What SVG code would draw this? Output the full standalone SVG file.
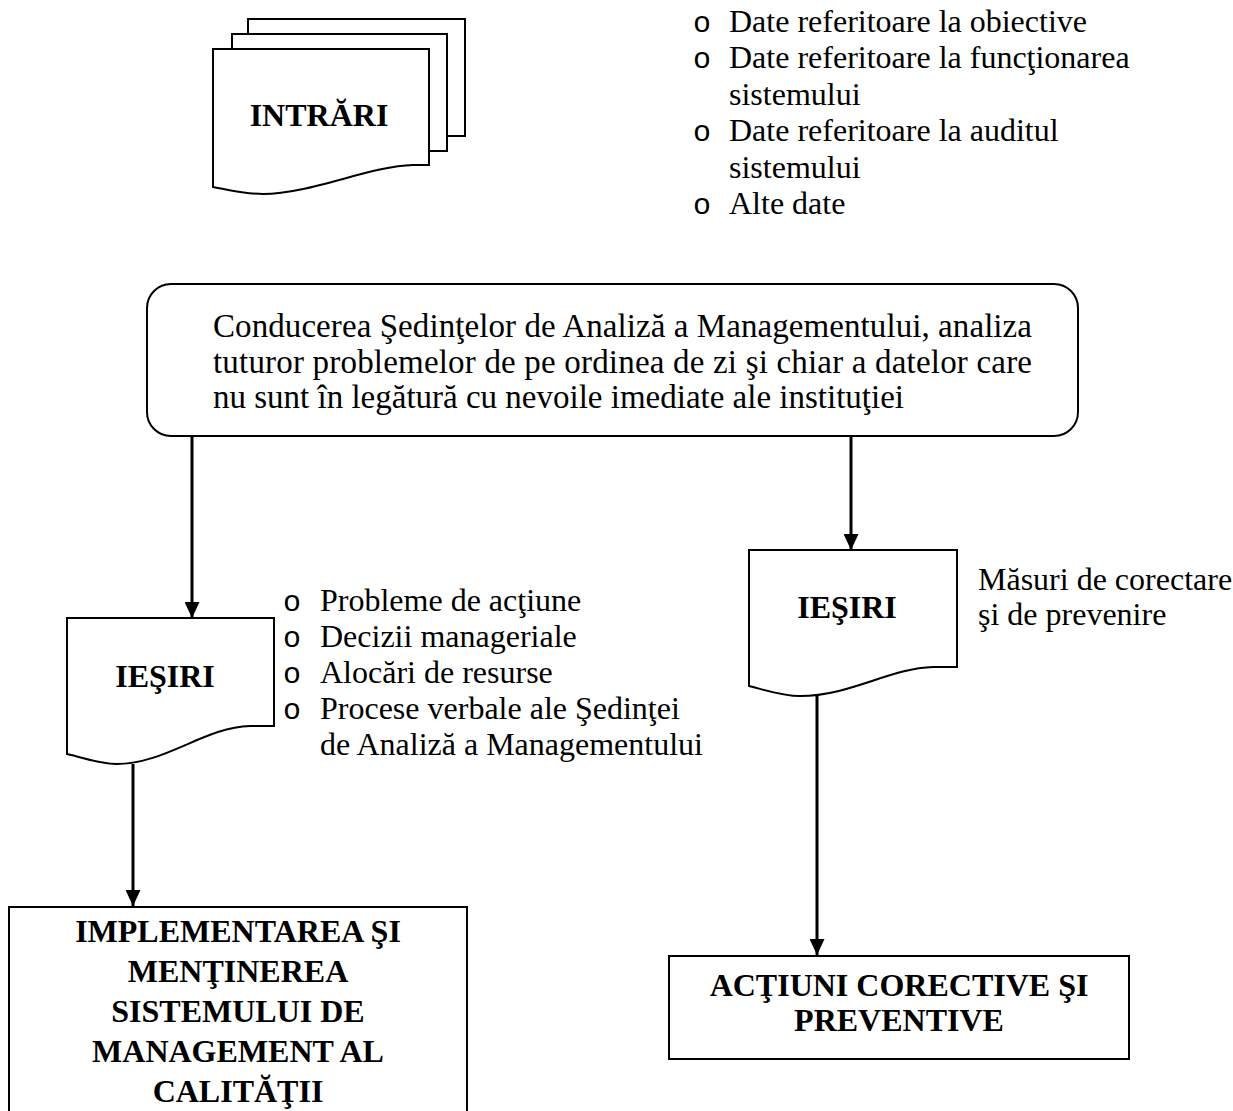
<svg xmlns="http://www.w3.org/2000/svg" width="1233" height="1111" viewBox="0 0 1233 1111">
<style>
  .shape { fill: #fff; stroke: #000; stroke-width: 2; }
  .txt { font-family: "Liberation Serif", "Times New Roman", serif; font-size: 32px; fill: #000; }
  .big { font-size: 33px; }
  .bold { font-weight: bold; }
  .mid { text-anchor: middle; }
  .bul { font-family: "Liberation Mono", "Courier New", monospace; font-size: 30px; fill: #000; }
  .conn { stroke: #000; stroke-width: 3; fill: none; }
</style>
<defs>
  <marker id="arrow" viewBox="0 0 16 15" refX="16" refY="7.5" markerWidth="16" markerHeight="15" markerUnits="userSpaceOnUse" orient="auto">
    <path d="M0,0 L16,7.5 L0,15 z" fill="#000"/>
  </marker>
</defs>
<rect width="1233" height="1111" fill="#fff"/>

<g id="intrari">
  <path class="shape" d="M248,34 V19 H465 V136 H447"/>
  <path class="shape" d="M232,49 V34 H447 V151 H429"/>
  <path class="shape" d="M213,49 H429 V165 H413 C370,166 310,194 263,194 C245,194 230,190 213,187 Z"/>
  <text class="txt bold mid" x="319" y="126">INTRĂRI</text>
</g>

<g id="intrari-list">
  <text class="bul" x="693" y="32">o</text>
  <text class="txt" x="729" y="32">Date referitoare la obiective</text>
  <text class="bul" x="693" y="68">o</text>
  <text class="txt" x="729" y="68">Date referitoare la funcţionarea</text>
  <text class="txt" x="729" y="105">sistemului</text>
  <text class="bul" x="693" y="141">o</text>
  <text class="txt" x="729" y="141">Date referitoare la auditul</text>
  <text class="txt" x="729" y="178">sistemului</text>
  <text class="bul" x="693" y="214">o</text>
  <text class="txt" x="729" y="214">Alte date</text>
</g>

<g id="conducere">
  <rect class="shape" x="147" y="284" width="931" height="152" rx="24" ry="24"/>
  <text class="txt big" x="213" y="337" textLength="819" lengthAdjust="spacing">Conducerea Şedinţelor de Analiză a Managementului, analiza</text>
  <text class="txt big" x="213" y="373" textLength="819" lengthAdjust="spacing">tuturor problemelor de pe ordinea de zi şi chiar a datelor care</text>
  <text class="txt big" x="213" y="408">nu sunt în legătură cu nevoile imediate ale instituţiei</text>
</g>

<g id="iesiri-left">
  <path class="shape" d="M67,618 H274 V726 H250 C205,727 165,764 117,764 C100,764 85,758 67,754 Z"/>
  <text class="txt bold mid" x="165" y="687">IEŞIRI</text>
</g>

<g id="iesiri-left-list">
  <text class="bul" x="283" y="611">o</text>
  <text class="txt" x="320" y="611">Probleme de acţiune</text>
  <text class="bul" x="283" y="647">o</text>
  <text class="txt" x="320" y="647">Decizii manageriale</text>
  <text class="bul" x="283" y="683">o</text>
  <text class="txt" x="320" y="683">Alocări de resurse</text>
  <text class="bul" x="283" y="719">o</text>
  <text class="txt" x="320" y="719">Procese verbale ale Şedinţei</text>
  <text class="txt" x="320" y="755">de Analiză a Managementului</text>
</g>

<g id="iesiri-right">
  <path class="shape" d="M749,550 H957 V667 H933 C890,668 850,696 800,696 C783,696 765,690 749,686 Z"/>
  <text class="txt bold mid" x="847" y="618">IEŞIRI</text>
</g>

<g id="iesiri-right-text">
  <text class="txt" x="978" y="590">Măsuri de corectare</text>
  <text class="txt" x="978" y="625">şi de prevenire</text>
</g>

<g id="implementare">
  <rect class="shape" x="9" y="907" width="458" height="220"/>
  <text class="txt bold mid" x="238" y="942">IMPLEMENTAREA ŞI</text>
  <text class="txt bold mid" x="238" y="982">MENŢINEREA</text>
  <text class="txt bold mid" x="238" y="1022">SISTEMULUI DE</text>
  <text class="txt bold mid" x="238" y="1062">MANAGEMENT AL</text>
  <text class="txt bold mid" x="238" y="1102">CALITĂŢII</text>
</g>

<g id="actiuni">
  <rect class="shape" x="669" y="956" width="460" height="103"/>
  <text class="txt bold mid" x="899" y="996">ACŢIUNI CORECTIVE ŞI</text>
  <text class="txt bold mid" x="899" y="1031">PREVENTIVE</text>
</g>

<g id="connectors">
  <line class="conn" x1="192" y1="436" x2="192" y2="618" marker-end="url(#arrow)"/>
  <line class="conn" x1="851" y1="436" x2="851" y2="550" marker-end="url(#arrow)"/>
  <line class="conn" x1="133" y1="764" x2="133" y2="906" marker-end="url(#arrow)"/>
  <line class="conn" x1="817" y1="695" x2="817" y2="955" marker-end="url(#arrow)"/>
</g>
</svg>
